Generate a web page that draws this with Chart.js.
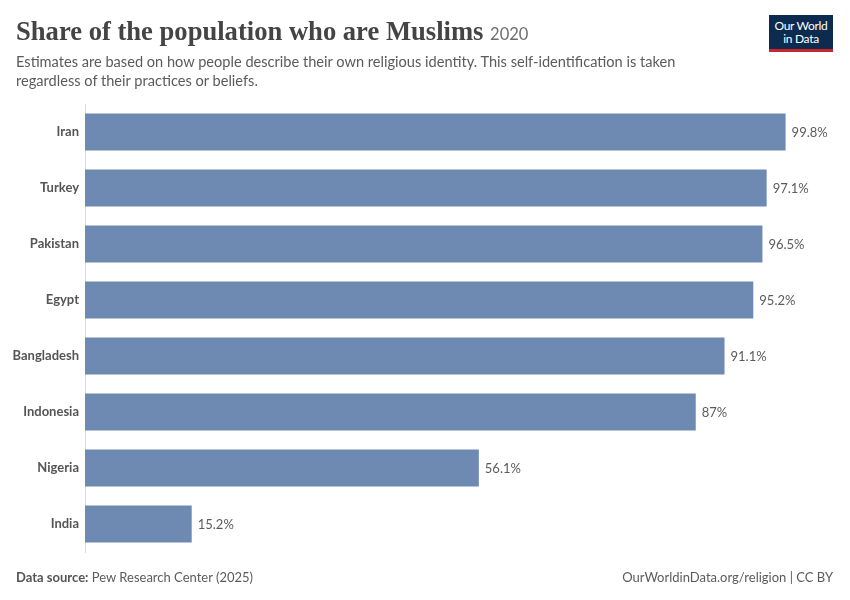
<!DOCTYPE html>
<html>
<head>
<meta charset="utf-8">
<script src="https://cdn.jsdelivr.net/npm/chart.js@4.4.1/dist/chart.umd.min.js"></script>
<style>
  html,body{margin:0;padding:0;background:#fff;}
  #wrap{position:relative;width:850px;height:600px;overflow:hidden;font-family:Lato,"Noto Sans",sans-serif;}
  #title{position:absolute;left:16px;top:16px;font-family:"Liberation Serif","DejaVu Serif",serif;font-weight:bold;font-size:26.6px;color:#444;white-space:nowrap;letter-spacing:0px;}
  #title span{font-family:Lato,sans-serif;font-weight:normal;font-size:16.5px;color:#6e6e6e;letter-spacing:0;}
  #sub{position:absolute;left:16px;top:52px;width:720px;font-size:14.6px;line-height:19px;color:#5b5b5b;}
  #logo{position:absolute;left:769px;top:15px;width:64px;height:37px;background:#0d2a4f;color:#fff;font-size:12px;line-height:13px;text-align:center;border-bottom:3px solid #c7262e;box-sizing:border-box;padding-top:4px;letter-spacing:-0.3px;}
  #src{position:absolute;left:16px;top:569px;font-size:13px;color:#5b5b5b;}
  #src b{font-weight:bold;color:#555;}
  #lic{position:absolute;right:17px;top:569px;font-size:13px;color:#5b5b5b;}
  canvas{position:absolute;left:0;top:0;}
</style>
</head>
<body>
<div id="wrap">
  <canvas id="c" width="850" height="600"></canvas>
  <div id="title">Share of the population who are Muslims <span>2020</span></div>
  <div id="sub">Estimates are based on how people describe their own religious identity. This self-identification is taken regardless of their practices or beliefs.</div>
  <div id="logo">Our World<br>in Data</div>
  <div id="src"><b>Data source:</b> Pew Research Center (2025)</div>
  <div id="lic">OurWorldinData.org/religion | CC BY</div>
</div>
<script>
const countries = ["Iran","Turkey","Pakistan","Egypt","Bangladesh","Indonesia","Nigeria","India"];
const muslimShare = [99.8, 97.1, 96.5, 95.2, 91.1, 87, 56.1, 15.2];
const valueLabels = ["99.8%","97.1%","96.5%","95.2%","91.1%","87%","56.1%","15.2%"];

const valueLabelPlugin = {
  id: 'valueLabels',
  afterDatasetsDraw(chart) {
    const ctx = chart.ctx;
    const meta = chart.getDatasetMeta(0);
    ctx.save();
    ctx.font = '13px Lato, sans-serif';
    ctx.fillStyle = '#5b5b5b';
    ctx.textBaseline = 'middle';
    ctx.textAlign = 'left';
    meta.data.forEach((bar, i) => {
      ctx.fillText(valueLabels[i], bar.x + 6, bar.y + 1);
    });
    ctx.restore();
  }
};

new Chart(document.getElementById('c'), {
  type: 'bar',
  data: {
    labels: countries,
    datasets: [{
      data: muslimShare,
      backgroundColor: '#6e89b2',
      borderWidth: 0,
      categoryPercentage: 1,
      barPercentage: 0.66
    }]
  },
  options: {
    indexAxis: 'y',
    responsive: false,
    animation: false,
    devicePixelRatio: 1,
    layout: { padding: { top: 104, bottom: 48, right: 63, left: 0 } },
    plugins: { legend: { display: false }, tooltip: { enabled: false } },
    scales: {
      x: {
        min: 0, max: 100,
        display: false,
        grid: { display: false }
      },
      y: {
        grid: { display: false, drawTicks: false },
        border: { display: true, color: '#dcdcdc', width: 1 },
        ticks: {
          color: '#555',
          font: { family: 'Lato, sans-serif', size: 13, weight: 'bold' },
          padding: 6
        },
        afterFit(scale) { scale.width = 85; }
      }
    }
  },
  plugins: [valueLabelPlugin]
});
</script>
</body>
</html>
